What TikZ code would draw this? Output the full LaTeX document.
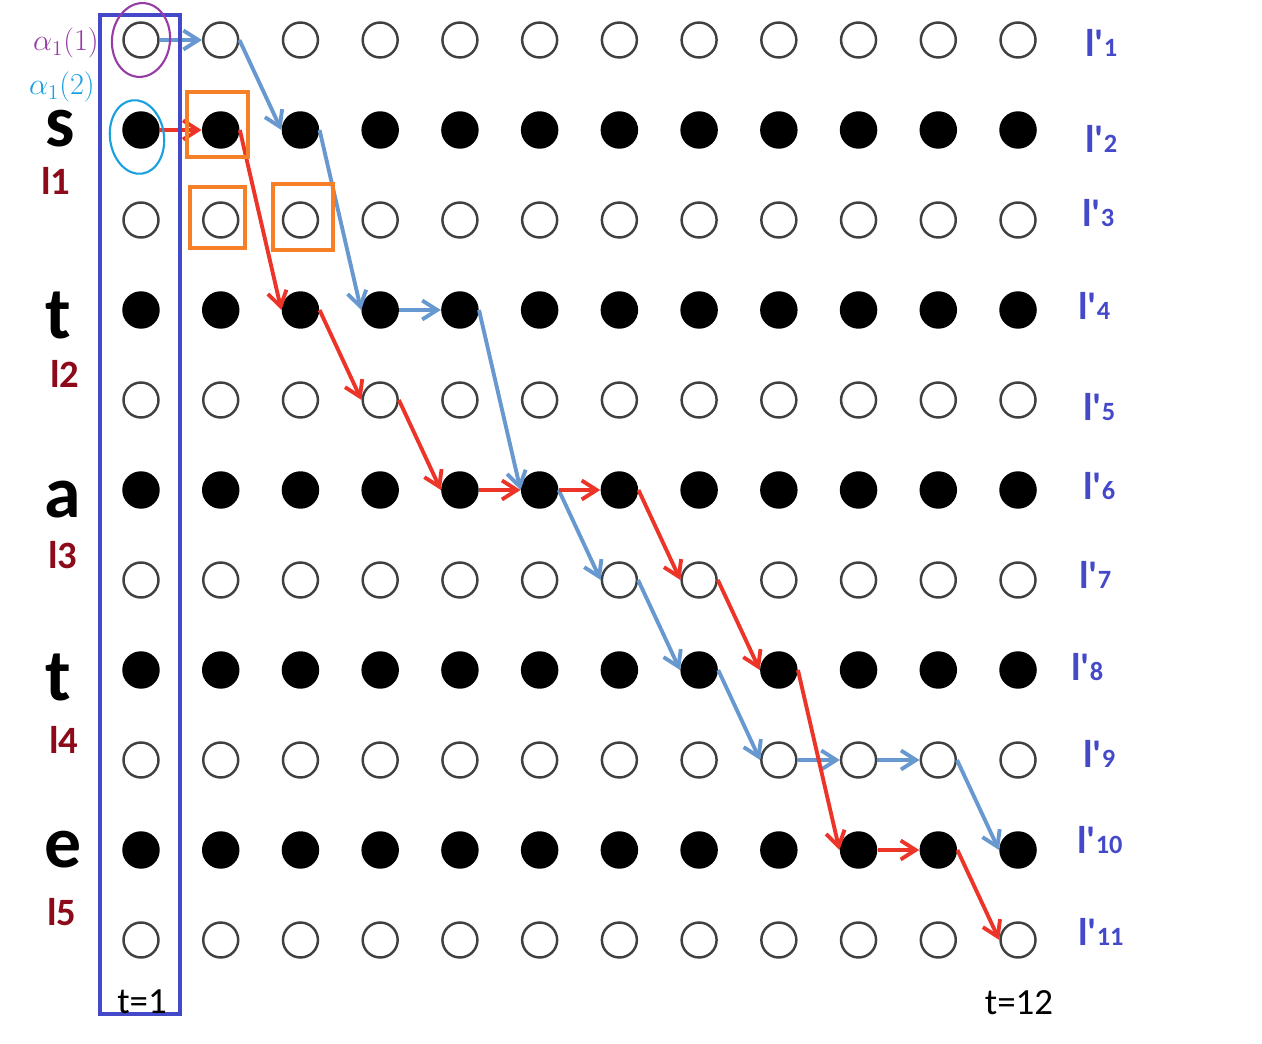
\documentclass[tikz,border=0pt]{standalone}
\usepackage{fontspec}
\setmainfont{Carlito}
\usetikzlibrary{arrows.meta,positioning}
\definecolor{frameblue}{RGB}{67,73,201}
\definecolor{pathblue}{RGB}{104,152,208}
\definecolor{pathred}{RGB}{236,52,40}
\definecolor{boxorange}{RGB}{245,128,40}
\definecolor{labred}{RGB}{140,10,25}
\definecolor{alphapurple}{RGB}{150,60,165}
\definecolor{alphacyan}{RGB}{25,160,225}

\begin{document}
\begin{tikzpicture}[x=.02cm,y=-.02cm,
  opendot/.style={circle,draw=black!75,line width=1.4pt,fill=white,minimum size=.70cm,inner sep=0pt},
  fulldot/.style={circle,fill=black,minimum size=.75cm,inner sep=0pt},
  bluepath/.style={pathblue,line width=2.2pt,-{Straight Barb[length=3mm,width=3.8mm]}},
  redpath/.style={pathred,line width=2.2pt,-{Straight Barb[length=3mm,width=3.8mm]}},
  letter/.style={font=\fontsize{42}{48}\selectfont\bfseries,anchor=base,inner sep=0pt},
  llab/.style={font=\fontsize{22}{26}\selectfont\bfseries,text=labred,anchor=base,inner sep=0pt},
  rlab/.style={font=\fontsize{22}{26}\selectfont\bfseries,text=frameblue,anchor=base west,inner sep=0pt},
  tlab/.style={font=\fontsize{21}{24}\selectfont,anchor=base,inner sep=0pt},
  alab/.style={font=\fontsize{17}{20}\selectfont,inner sep=0pt},
  pick/.style={draw=boxorange,line width=2.3pt}]
\useasboundingbox (0,0) rectangle (1262,1044);
% trellis
\foreach \r in {1,...,11}{\foreach \c in {1,...,12}{
  \pgfmathsetmacro\px{141+79.73*(\c-1)}\pgfmathsetmacro\py{40+90*(\r-1)}
  \ifodd\r \node[opendot] (n-\c-\r) at (\px,\py) {};\else \node[fulldot] (n-\c-\r) at (\px,\py) {};\fi}}
% paths
\foreach \a/\b in {1-1/2-1,2-1/3-2,3-2/4-4,4-4/5-4,5-4/6-6,6-6/7-7,7-7/8-8,8-8/9-9,9-9/10-9,10-9/11-9,11-9/12-10}
  \draw[bluepath] (n-\a.east) -- (n-\b.west);
\foreach \a/\b in {1-2/2-2,2-2/3-4,3-4/4-5,4-5/5-6,5-6/6-6,6-6/7-6,7-6/8-7,8-7/9-8,9-8/10-10,10-10/11-10,11-10/12-11}
  \draw[redpath] (n-\a.east) -- (n-\b.west);
% t=1 column and picked states
\draw[frameblue,line width=2.3pt] (100,15) rectangle (180,1014);
\draw[pick] (187,92) rectangle (248,157);\draw[pick] (190,187) rectangle (245,248);\draw[pick] (273,184) rectangle (333,250);
\draw[alphapurple,line width=1.2pt,rotate around={-6:(n-1-1)}] (n-1-1) ellipse [x radius=29,y radius=37];
\draw[alphacyan,line width=1.2pt,rotate around={8:(137,137)}] (137,137) ellipse [x radius=27,y radius=37];
\node[alab,text=alphapurple] (a11) at (66,43) {$\alpha_1(1)$};
\node[alab,text=alphacyan] (a12) at (62,87) {$\alpha_1(2)$};
% word
\foreach \ch/\x/\y [count=\i] in {s/60/147,t/58/338,a/63/517,t/58/700,e/63/867}
  \node[letter] (w\i) at (\x,\y) {\ch};
\foreach \x/\y [count=\i] in {56/195,65/388,63/568,64/753,62/925}
  \node[llab] (l\i) at (\x,\y) {l\i};
\foreach \x/\y [count=\i] in {1085/57,1085/153,1082/227,1078/320,1083/420,1083/500,1079/588,1071/680,1083/767,1077/853,1078/945}
  \node[rlab] (lp\i) at (\x,\y) {l\textquotesingle{\fontsize{15}{18}\selectfont\i}};
\node[tlab] (t1) at (142,1013) {t=1};\node[tlab] (t12) at (1019,1014) {t=12};
\end{tikzpicture}
\end{document}
